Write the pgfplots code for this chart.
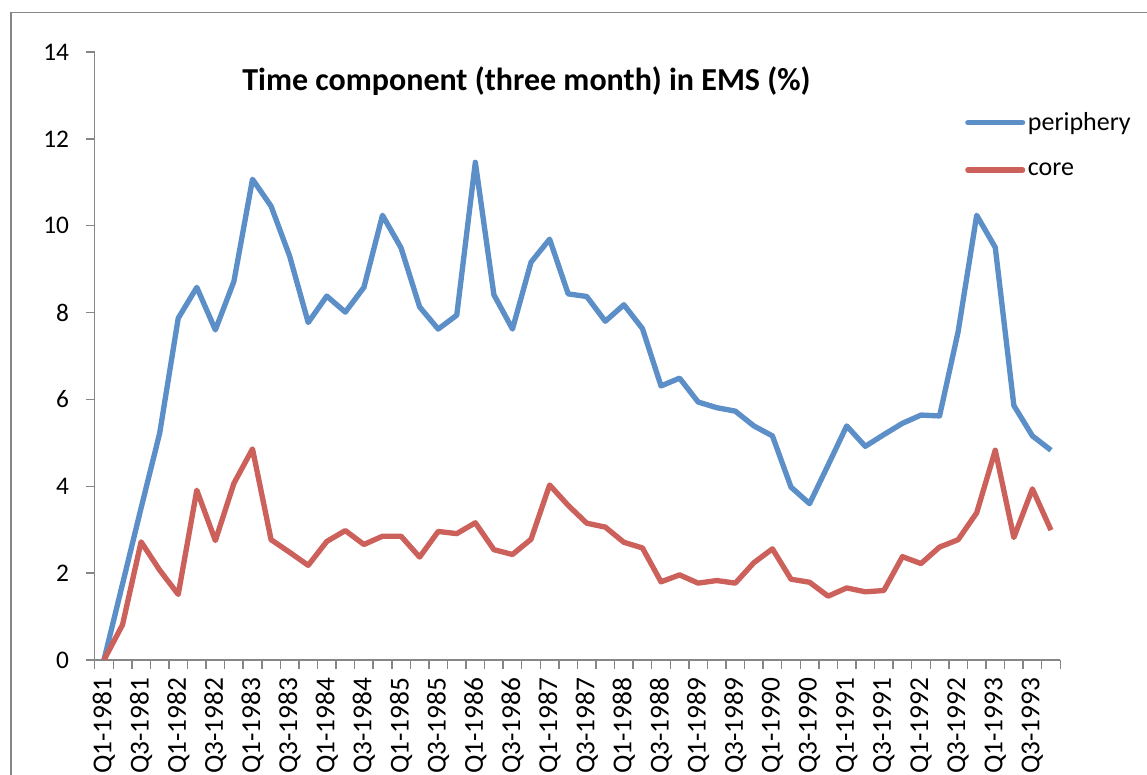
\documentclass[border=0pt]{standalone}
\usepackage{fontspec}
\setmainfont{Carlito}
\usepackage{pgfplots}
\usepackage{pgfplotstable}
\pgfplotsset{compat=1.18}
\definecolor{periph}{RGB}{92,143,199}
\definecolor{corec}{RGB}{204,96,90}
\definecolor{axgray}{RGB}{134,134,134}
\pgfplotstableread{
i periphery core
0 0.00 0.00
1 1.75 0.81
2 3.50 2.72
3 5.22 2.07
4 7.87 1.51
5 8.58 3.91
6 7.60 2.75
7 8.72 4.07
8 11.07 4.86
9 10.45 2.77
10 9.30 2.48
11 7.77 2.18
12 8.38 2.73
13 8.01 2.98
14 8.58 2.66
15 10.24 2.85
16 9.49 2.85
17 8.13 2.37
18 7.62 2.96
19 7.94 2.91
20 11.46 3.16
21 8.41 2.54
22 7.62 2.43
23 9.16 2.78
24 9.69 4.03
25 8.43 3.56
26 8.37 3.15
27 7.80 3.06
28 8.18 2.71
29 7.63 2.58
30 6.31 1.80
31 6.49 1.96
32 5.94 1.77
33 5.81 1.83
34 5.73 1.77
35 5.39 2.24
36 5.16 2.56
37 3.98 1.86
38 3.60 1.79
39 4.49 1.47
40 5.39 1.66
41 4.92 1.57
42 5.19 1.60
43 5.45 2.38
44 5.64 2.22
45 5.62 2.60
46 7.56 2.77
47 10.24 3.39
48 9.50 4.83
49 5.86 2.82
50 5.16 3.94
51 4.83 2.99
}\datatable
\begin{document}
\begin{tikzpicture}
\path[use as bounding box] (-71pt,-86.25pt) rectangle (789.25pt,495pt);
\draw[axgray, line width=1pt] (-62.8pt,-150pt) rectangle (850pt,485.5pt);
\begin{axis}[
 at={(0pt,0pt)}, anchor=south west,
 scale only axis, width=724.2pt, height=456pt,
 xmin=-0.5, xmax=51.5, ymin=0, ymax=14,
 axis x line*=bottom, axis y line*=left,
 axis line style={axgray, line width=1.1pt},
 tick align=outside,
 major tick length=6.5pt,
 tick style={axgray, line width=1.1pt},
 ytick={0,2,...,14},
 xtick={-0.5,0.5,...,51.5},
 x tick label as interval,
 xticklabels={Q1-1981,{},Q3-1981,{},Q1-1982,{},Q3-1982,{},Q1-1983,{},Q3-1983,{},Q1-1984,{},Q3-1984,{},Q1-1985,{},Q3-1985,{},Q1-1986,{},Q3-1986,{},Q1-1987,{},Q3-1987,{},Q1-1988,{},Q3-1988,{},Q1-1989,{},Q3-1989,{},Q1-1990,{},Q3-1990,{},Q1-1991,{},Q3-1991,{},Q1-1992,{},Q3-1992,{},Q1-1993,{},Q3-1993,{}},
 /pgf/number format/assume math mode=true,
 tick label style={font=\fontsize{19}{22}\selectfont, black},
 x tick label style={rotate=90, anchor=east, inner xsep=6.5pt, inner ysep=0pt, font=\fontsize{20.5}{24}\selectfont},
 y tick label style={anchor=east, inner xsep=12.5pt, inner ysep=0pt},
 title={Time component (three month) in EMS (\%)},
 title style={at={(axis description cs:0.4472,0.9227)}, anchor=base, font=\bfseries\fontsize{24}{28}\selectfont, inner sep=0pt},
 legend style={at={(axis description cs:0.9013,0.847)}, anchor=west, draw=none, fill=none, inner sep=0pt, font=\fontsize{19.5}{23}\selectfont, row sep=18.5pt, cells={anchor=west}},
 legend image code/.code={\draw[#1, line cap=round] (0pt,0pt) -- (41pt,0pt);},
 line join=round,
]
\addplot[periph, line width=4pt] table[x=i, y=periphery] {\datatable};
\addlegendentry{periphery}
\addplot[corec, line width=4pt] table[x=i, y=core] {\datatable};
\addlegendentry{core}
\end{axis}
\end{tikzpicture}
\end{document}
